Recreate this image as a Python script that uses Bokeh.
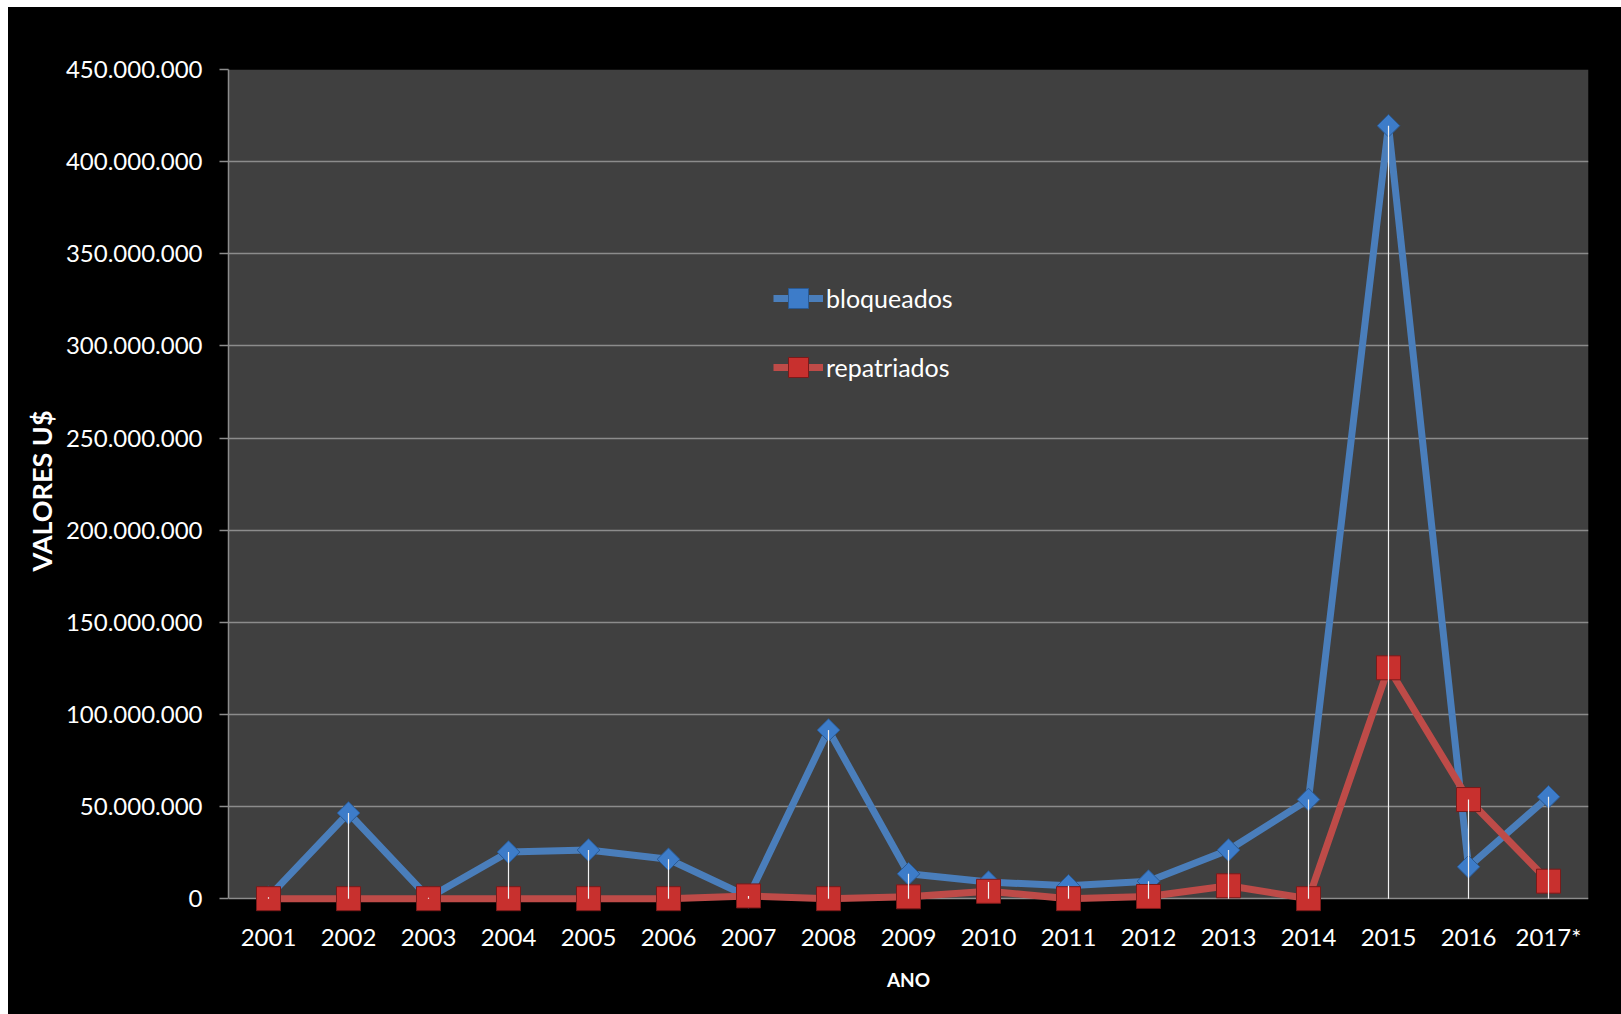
import math

from bokeh.embed import file_html
from bokeh.layouts import column, row
from bokeh.models import (BoxAnnotation, ColumnDataSource, FactorRange, FixedTicker,
                          Legend, LegendItem, Range1d, Spacer)
from bokeh.plotting import figure
from bokeh.resources import INLINE

# Yearly amounts (US$)
anos = ["2001", "2002", "2003", "2004", "2005", "2006", "2007", "2008", "2009",
        "2010", "2011", "2012", "2013", "2014", "2015", "2016", "2017*"]
bloqueados = [0.8e6, 46.5e6, 0.5e6, 25.3e6, 26.4e6, 21.4e6, 1.0e6, 91.5e6, 13.5e6,
              9.0e6, 7.0e6, 9.5e6, 26.4e6, 53.8e6, 419.5e6, 17.3e6, 55.3e6]
repatriados = [0.0, 0.0, 0.0, 0.0, 0.0, 0.0, 1.5e6, 0.0, 1.0e6,
               4.0e6, 0.0, 1.2e6, 7.0e6, 0.0, 125.3e6, 53.8e6, 9.5e6]

y_ticks = [0, 50_000_000, 100_000_000, 150_000_000, 200_000_000,
           250_000_000, 300_000_000, 350_000_000, 400_000_000, 450_000_000]
y_tick_labels = ["0", "50.000.000", "100.000.000", "150.000.000", "200.000.000",
                 "250.000.000", "300.000.000", "350.000.000", "400.000.000", "450.000.000"]

FONT = "Lato"
BLUE_LINE, BLUE_FILL, BLUE_EDGE = "#4A7EBB", "#3D7CC9", "#2A5A94"
RED_LINE, RED_FILL, RED_EDGE = "#BE4B48", "#C8302E", "#7A1A1A"
GRID = "#8C8C8C"

src = ColumnDataSource(dict(
    ano=anos,
    bloqueados=bloqueados,
    repatriados=repatriados,
    topo=[max(b, r) for b, r in zip(bloqueados, repatriados)],
    base=[0.0] * len(anos),
))

# the range reaches a little below zero so markers sitting on zero are not cut
p = figure(
    x_range=FactorRange(*anos),
    y_range=Range1d(-7.5e6, 450e6),
    width=1613, height=1007,
    min_border_left=220, min_border_right=33, min_border_top=62, min_border_bottom=102,
    background_fill_color="black", border_fill_color="black",
    outline_line_color=None,
    output_backend="svg", toolbar_location=None,
)
p.styles = {"background-color": "black"}

# dark plot area from 0 up to the top tick
p.add_layout(BoxAnnotation(bottom=0, top=y_ticks[-1], fill_color="#404040",
                           fill_alpha=1.0, line_color=None, line_alpha=0,
                           level="image"))

p.xgrid.grid_line_color = None
p.ygrid.ticker = FixedTicker(ticks=y_ticks)
p.ygrid.grid_line_color = GRID
p.ygrid.grid_line_width = 1.5

# value axis
p.yaxis.ticker = FixedTicker(ticks=y_ticks)
p.yaxis.major_label_overrides = dict(zip(y_ticks, y_tick_labels))
p.yaxis.bounds = (0, y_ticks[-1])
p.yaxis.axis_line_color = GRID
p.yaxis.axis_line_width = 1.5
p.yaxis.major_tick_line_color = GRID
p.yaxis.major_tick_line_width = 1.5
p.yaxis.major_tick_out = 9
p.yaxis.major_tick_in = 0
p.yaxis.minor_tick_line_color = None
p.yaxis.major_label_text_color = "white"
p.yaxis.major_label_text_font = FONT
p.yaxis.major_label_text_font_size = "24px"
p.yaxis.major_label_standoff = 17
p.yaxis.axis_label = "VALORES U$"
p.yaxis.axis_label_text_color = "white"
p.yaxis.axis_label_text_font = FONT
p.yaxis.axis_label_text_font_style = "bold"
p.yaxis.axis_label_text_font_size = "27px"
p.yaxis.axis_label_standoff = 5

# year axis (the zero grid line serves as its line)
p.xaxis.axis_line_color = None
p.xaxis.major_tick_line_color = None
p.xaxis.minor_tick_line_color = None
p.xaxis.major_label_text_color = "white"
p.xaxis.major_label_text_font = FONT
p.xaxis.major_label_text_font_size = "24px"
p.xaxis.major_label_standoff = 3
p.xaxis.axis_label = "ANO"
p.xaxis.axis_label_text_color = "white"
p.xaxis.axis_label_text_font = FONT
p.xaxis.axis_label_text_font_style = "bold"
p.xaxis.axis_label_text_font_size = "19px"
p.xaxis.axis_label_standoff = 14

# series
bl_line = p.line("ano", "bloqueados", source=src, line_color=BLUE_LINE, line_width=7)
bl_pts = p.scatter("ano", "bloqueados", source=src, marker="square", angle=math.pi / 4,
                   size=16, fill_color=BLUE_FILL, line_color=BLUE_EDGE, line_width=1)
rp_line = p.line("ano", "repatriados", source=src, line_color=RED_LINE, line_width=7)
rp_pts = p.scatter("ano", "repatriados", source=src, marker="square",
                   size=24, fill_color=RED_FILL, line_color=RED_EDGE, line_width=1)

# drop lines from the highest point of each year down to zero
p.segment("ano", "base", "ano", "topo", source=src, line_color="#F2F2F2", line_width=1.2)

legend = Legend(
    items=[LegendItem(label="bloqueados", renderers=[bl_line, bl_pts]),
           LegendItem(label="repatriados", renderers=[rp_line, rp_pts])],
    location=(545, 520), orientation="vertical",
    background_fill_alpha=0.0, border_line_color=None,
    label_text_color="white", label_text_font=FONT, label_text_font_size="25px",
    glyph_width=50, glyph_height=50, label_height=50, spacing=19,
    padding=0, margin=0, label_standoff=3,
)
p.add_layout(legend)

layout = column(Spacer(height=7), row(Spacer(width=8), p))

with open("out.html", "w") as f:
    f.write(file_html(layout, INLINE))
